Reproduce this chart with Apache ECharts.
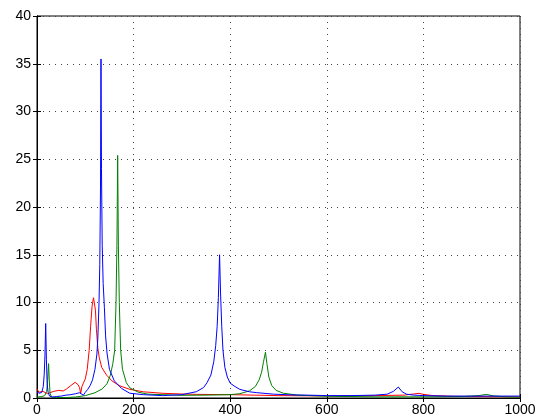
<!DOCTYPE html>
<html lang="en" style="height: 100%">
<head>
  <meta charset="utf-8">
  <script type="text/javascript" src="https://cdn.jsdelivr.net/npm/echarts@6/dist/echarts.min.js"></script>
</head>
<body style="height: 100%; margin: 0; background: #fff">
  <div id="main" style="height: 419px; width: 549px"></div>

  <script type="text/javascript">
    // values, [x, y]
    var blueData = [
      [0,0.6],[5,0.5],[10,0.6],[13,1.2],[15,2.5],[16.5,4.5],[18,7.8],[19.5,4],[21,1.5],[23,0.6],[26,0.2],[32,0.1],
      [40,0.15],[50,0.2],[60,0.3],[70,0.35],[80,0.45],[88,0.55],[92,0.35],[96,0.3],[100,0.6],[105,0.9],
      [110,1.3],[115,1.9],[120,3.0],[124,4.6],[126,6.3],[128.4,10],[130,14],[131.5,22],[132.5,35.5],
      [133.5,24],[135,16],[137,12],[139.5,9.5],[142,6.5],[145,4.7],[150,3],[160,1.8],[175,1.0],
      [192,0.5],[220,0.35],[260,0.25],[300,0.35],[330,0.66],[345,1.1],[352,1.6],[360,2.4],[366,3.8],
      [370,5.5],[373,7.5],[375.5,10.5],[378,15],[380,11],[382.5,7.5],[385,5],[389,3.2],[394,2.2],
      [400,1.55],[410,1.2],[420,0.9],[440,0.65],[455,0.56],[490,0.4],[530,0.32],[560,0.3],[600,0.25],
      [650,0.25],[700,0.3],[725,0.4],[738,0.7],[748,1.15],[756,0.65],[765,0.4],[780,0.3],[800,0.25],
      [850,0.2],[900,0.2],[950,0.2],[1000,0.2]
    ];
    var greenData = [
      [0,0.1],[10,0.15],[16,0.25],[20,0.7],[22,1.8],[24,3.6],[25.5,1.8],[27,0.5],[30,0.1],[40,0.05],
      [60,0.05],[80,0.1],[100,0.25],[120,0.55],[135,0.95],[145,1.5],[152,2.4],[157,3.6],[160.8,5],
      [163.6,10],[165.5,16],[167,25.4],[168.5,16],[170.4,10],[173.2,5],[177,3],[185,1.6],[192.5,1.05],
      [210,0.6],[230,0.4],[261,0.35],[300,0.28],[350,0.3],[400,0.35],[420,0.45],[440,0.75],[452,1.2],
      [460,1.9],[465,2.7],[469,3.8],[473,4.8],[476,3.6],[480,2.2],[486,1.3],[495,0.8],[510,0.5],
      [540,0.3],[600,0.18],[700,0.12],[800,0.12],[880,0.15],[915,0.25],[930,0.38],[945,0.22],
      [970,0.12],[1000,0.08]
    ];
    var redData = [
      [0,0.95],[4,0.6],[8,0.5],[12,0.7],[16,0.5],[22,0.45],[27,0.56],[35,0.7],[45,0.8],[54,0.73],
      [58,0.7],[61,0.94],[70,1.3],[79,1.64],[85,1.4],[88,1.1],[90.4,0.49],[93,1.2],[96,1.55],
      [100,2.0],[104,3.0],[108,5.0],[111,7.5],[114,9.6],[117,10.5],[119,10.7],[121,9.2],[123,7.2],
      [126,5.2],[129,4.2],[134,3.2],[144,2.4],[155,1.8],[170,1.3],[192.5,0.9],[220,0.65],[261,0.49],
      [300,0.42],[330,0.38],[400,0.35],[450,0.3],[500,0.25],[600,0.22],[700,0.25],[760,0.3],
      [780,0.42],[791,0.49],[800,0.38],[820,0.25],[860,0.18],[900,0.15],[1000,0.12]
    ];

    var xTicks = [0, 200, 400, 600, 800, 1000];
    var yTicks = [0, 5, 10, 15, 20, 25, 30, 35, 40];

    var chart = echarts.init(document.getElementById('main'));

    var gridStyle = { show: true, lineStyle: { color: '#444', type: [1, 5], width: 1 } };
    var labelFont = { color: '#000', fontSize: 14, fontFamily: 'Liberation Sans, Arial, sans-serif' };
    var plain = function (v) { return String(v); };

    var option = {
      animation: false,
      backgroundColor: '#fff',
      grid: {
        left: 37, right: 29, top: 16, bottom: 21,
        show: true, borderColor: '#000', borderWidth: 1, backgroundColor: 'transparent'
      },
      xAxis: [
        {
          type: 'value', min: xTicks[0], max: xTicks[xTicks.length - 1], interval: 200,
          position: 'bottom',
          axisLine: { show: true, lineStyle: { color: '#000' } },
          axisTick: { show: true, inside: true, length: 4, lineStyle: { color: '#000' } },
          axisLabel: Object.assign({ margin: 5, formatter: plain }, labelFont),
          splitLine: gridStyle
        },
        {
          type: 'value', min: xTicks[0], max: xTicks[xTicks.length - 1], interval: 200,
          position: 'top',
          axisLine: { show: true, lineStyle: { color: '#000' } },
          axisTick: { show: true, inside: true, length: 4, lineStyle: { color: '#000' } },
          axisLabel: { show: false },
          splitLine: { show: false }
        }
      ],
      yAxis: [
        {
          type: 'value', min: yTicks[0], max: yTicks[yTicks.length - 1], interval: 5,
          position: 'left',
          axisLine: { show: true, lineStyle: { color: '#000' } },
          axisTick: { show: true, inside: true, length: 4, lineStyle: { color: '#000' } },
          axisLabel: Object.assign({ margin: 6, formatter: plain }, labelFont),
          splitLine: gridStyle
        },
        {
          type: 'value', min: yTicks[0], max: yTicks[yTicks.length - 1], interval: 5,
          position: 'right',
          axisLine: { show: true, lineStyle: { color: '#000' } },
          axisTick: { show: true, inside: true, length: 4, lineStyle: { color: '#000' } },
          axisLabel: { show: false },
          splitLine: { show: false }
        }
      ],
      series: [
        { type: 'line', data: redData, showSymbol: false, lineStyle: { color: '#ff0000', width: 1 }, z: 3 },
        { type: 'line', data: greenData, showSymbol: false, lineStyle: { color: '#008000', width: 1 }, z: 4 },
        { type: 'line', data: blueData, showSymbol: false, lineStyle: { color: '#0000ff', width: 1 }, z: 5 }
      ]
    };

    chart.setOption(option);
  </script>
</body>
</html>
